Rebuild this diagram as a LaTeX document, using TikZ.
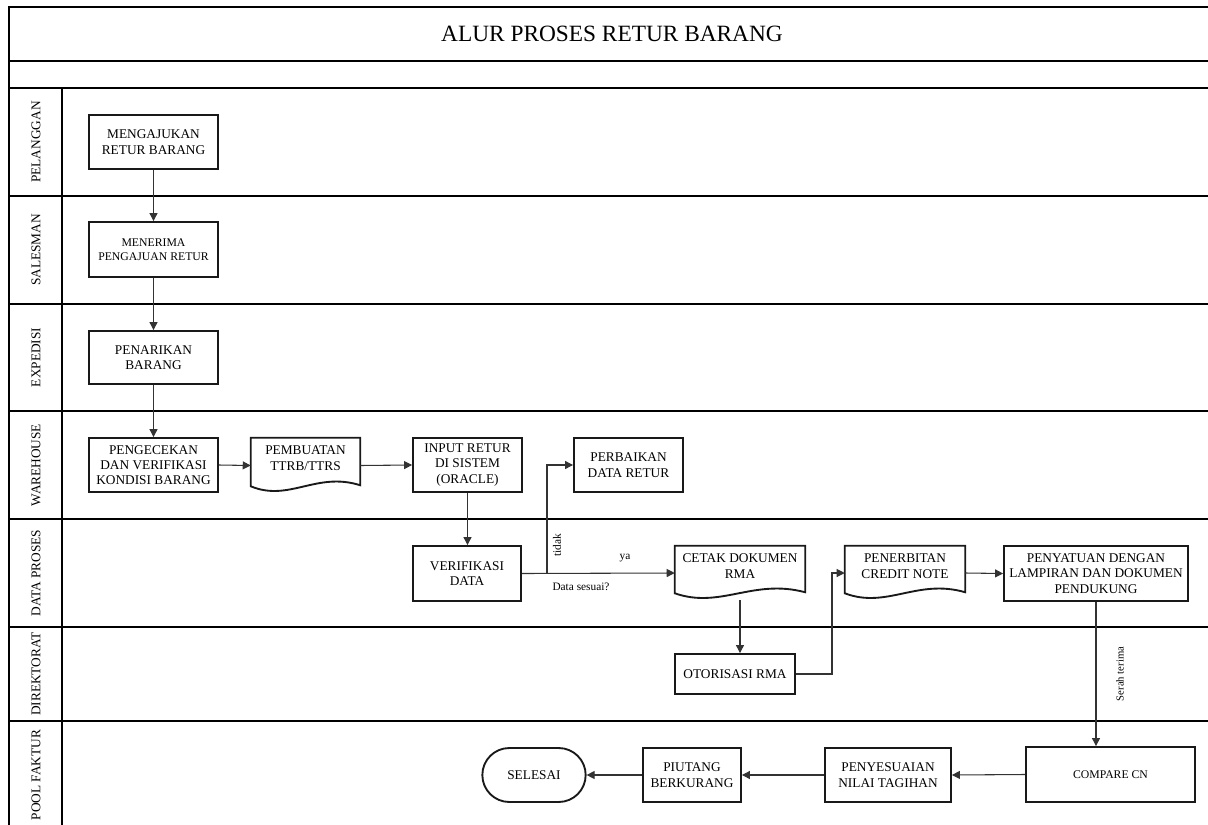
\documentclass[tikz,border=0pt]{standalone}
\usepackage{fontspec}
\setmainfont{Liberation Serif}
\usetikzlibrary{arrows.meta,calc,shapes.misc}
\newcommand\docshape[1]{%
  \draw[docline] ($(#1.south west)+(0,-7)$) -- (#1.north west) -- (#1.north east) -- ($(#1.south east)+(0,-8)$)
    .. controls ($(#1.south east)!0.4!(#1.south west)+(0,-22)$) and ($(#1.south east)!0.65!(#1.south west)+(0,9)$) .. ($(#1.south west)+(0,-7)$) -- cycle;}
\begin{document}
\begin{tikzpicture}[x=0.75pt,y=-0.75pt,
  lane/.style={draw=black, line width=1.5pt},
  box/.style={draw=black!90, line width=1.4pt, fill=white, align=center, inner sep=1pt,
    font=\fontsize{10}{11.5}\selectfont},
  smallbox/.style={box, font=\fontsize{8.8}{10.5}\selectfont},
  docbox/.style={inner sep=0pt},
  docline/.style={draw=black!90, line width=1.4pt},
  doctext/.style={align=center, inner sep=0pt, font=\fontsize{10}{11.5}\selectfont},
  conn/.style={draw=black!80, line width=0.8pt},
  arr/.style={conn, -{Triangle[length=6pt,width=6pt]}},
  lanelabel/.style={rotate=90, font=\fontsize{10}{12}\selectfont},
  small/.style={font=\fontsize{8.5}{10}\selectfont, inner sep=0pt},
  tiny/.style={font=\fontsize{8}{9}\selectfont, inner sep=0pt}
]
\useasboundingbox (0,0) rectangle (1208,825);

% frame and lanes
\draw[lane] (1208,7) -- (9,7) -- (9,825);
\draw[lane] (9,61) -- (1208,61);
\draw[lane] (9,88) -- (1208,88);
\draw[lane] (62,88) -- (62,825);
\foreach \yy in {196,304,411,519,627,721} {\draw[lane] (9,\yy) -- (1208,\yy);}

\node[font=\fontsize{17.5}{20}\selectfont] (title) at (612,34) {ALUR PROSES RETUR BARANG};

\node[lanelabel] (l1) at (36,142) {PELANGGAN};
\node[lanelabel] (l2) at (36,250) {SALESMAN};
\node[lanelabel] (l3) at (36,357.5) {EXPEDISI};
\node[lanelabel] (l4) at (36,465) {WAREHOUSE};
\node[lanelabel] (l5) at (36,573) {DATA PROSES};
\node[lanelabel] (l6) at (36,674) {DIREKTORAT};
\node[lanelabel] (l7) at (36,775) {POOL FAKTUR};

% nodes
\node[box, minimum width=96.75pt, minimum height=40.5pt] (mengajukan) at (153.5,142) {MENGAJUKAN\\RETUR BARANG};
\node[smallbox, minimum width=96.75pt, minimum height=41.25pt] (menerima) at (153.5,249.5) {MENERIMA\\PENGAJUAN RETUR};
\node[box, minimum width=96.75pt, minimum height=39.75pt] (penarikan) at (153.5,357.5) {PENARIKAN\\BARANG};
\node[box, minimum width=96.75pt, minimum height=40.5pt] (pengecekan) at (153.5,465) {PENGECEKAN\\DAN VERIFIKASI\\KONDISI BARANG};

\node[docbox, minimum width=81.75pt, minimum height=41.25pt] (ttrb) at (305.5,465.5) {};
\docshape{ttrb}
\node[doctext] (ttrbt) at (305.5,458) {PEMBUATAN\\TTRB/TTRS};

\node[box, minimum width=81.75pt, minimum height=40.5pt] (input) at (467.5,465) {INPUT RETUR\\DI SISTEM\\(ORACLE)};
\node[box, minimum width=81.75pt, minimum height=40.5pt] (perbaikan) at (628.5,465) {PERBAIKAN\\DATA RETUR};
\node[box, minimum width=81pt, minimum height=41.25pt] (verif) at (467,573.5) {VERIFIKASI\\DATA};

\node[docbox, minimum width=97.5pt, minimum height=40.5pt] (cetak) at (740,573) {};
\docshape{cetak}
\node[doctext] (cetakt) at (740,566) {CETAK DOKUMEN\\RMA};

\node[docbox, minimum width=90pt, minimum height=40.5pt] (terbit) at (905,573) {};
\docshape{terbit}
\node[doctext] (terbitt) at (905,566) {PENERBITAN\\CREDIT NOTE};

\node[box, minimum width=138pt, minimum height=41.25pt] (satu) at (1096,573.5) {PENYATUAN DENGAN\\LAMPIRAN DAN DOKUMEN\\PENDUKUNG};
\node[box, minimum width=90pt, minimum height=30pt] (otor) at (735,674) {OTORISASI RMA};
\node[smallbox, minimum width=126.75pt, minimum height=41.25pt] (compare) at (1110.5,774.5) {COMPARE CN};
\node[box, minimum width=94.5pt, minimum height=40.5pt] (sesuai) at (888,775) {PENYESUAIAN\\NILAI TAGIHAN};
\node[box, minimum width=73.5pt, minimum height=40.5pt] (piutang) at (692,775) {PIUTANG\\BERKURANG};
\node[box, rounded rectangle, minimum width=79.5pt, minimum height=40.5pt] (selesai) at (534,775) {SELESAI};

% connectors
\draw[arr] (mengajukan.south) -- (menerima.north);
\draw[arr] (menerima.south) -- (penarikan.north);
\draw[arr] (penarikan.south) -- (pengecekan.north);
\draw[arr] (pengecekan.east) -- (ttrb.west);
\draw[arr] (ttrb.east) -- (input.west);
\draw[arr] (input.south) -- (input.south |- verif.north);
\draw[arr] (verif.east) -- (cetak.west);
\coordinate (br) at (547,573.5);
\draw[arr] (br) |- (perbaikan.west);
\draw[arr] (cetak.south) -- (cetak.south |- otor.north);
\coordinate (b2) at (832,674);
\draw[arr] (otor.east) -- (b2) |- (terbit.west);
\draw[arr] (terbit.east) -- (satu.west);
\draw[arr] (satu.south) -- (satu.south |- compare.north);
\draw[arr] (compare.west) -- (sesuai.east);
\draw[arr] (sesuai.west) -- (piutang.east);
\draw[arr] (piutang.west) -- (selesai.east);

% labels
\node[small, rotate=90] (tidak) at (557,545) {tidak};
\node[small] (ya) at (625,558) {ya};
\node[small] (ds) at (581,587) {Data sesuai?};
\node[tiny, rotate=90] (serah) at (1120,674) {Serah terima};
\end{tikzpicture}
\end{document}
